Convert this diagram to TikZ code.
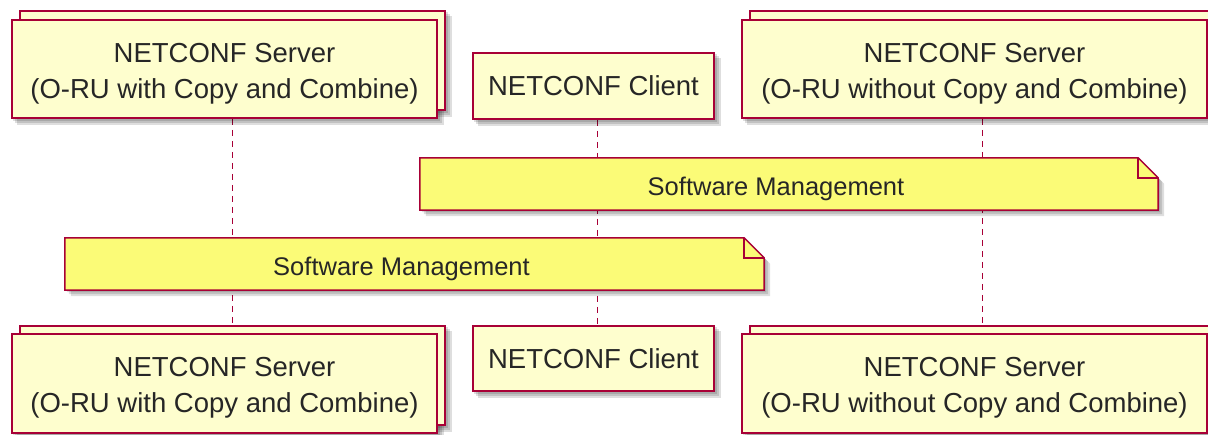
\documentclass[tikz,border=0pt]{standalone}
\usepackage{fontspec}
\setmainfont{Liberation Sans}
\usetikzlibrary{backgrounds}
\definecolor{pborder}{HTML}{A80036}
\definecolor{pfill}{HTML}{FEFECE}
\definecolor{nfill}{HTML}{FBFB77}
\tikzset{
  pbox/.style={draw=pborder, fill=pfill, line width=1.5pt, rectangle, inner sep=0pt,
    align=center, text=black!85, font=\fontsize{27.5}{36}\selectfont},
  backbox/.style={draw=pborder, fill=pfill, line width=1.5pt, rectangle, inner sep=0pt},
  notebox/.style={inner sep=0pt, text=black!85, font=\fontsize{25.5}{30}\selectfont},
  notepaint/.style={draw=pborder, fill=nfill, line width=1.5pt},
  life/.style={draw=pborder, line width=1.3pt, dash pattern=on 6pt off 5pt},
  shad/.style={fill=black, opacity=0.13},
}
\newcommand\lowertop{\rule{0pt}{28pt}}
\newcommand\mkshadow[1]{%
  \fill[shad] ([shift={(2,2)}]#1.north west) rectangle ([shift={(2,2)}]#1.south east);
  \fill[shad] ([shift={(4,4)}]#1.north west) rectangle ([shift={(4,4)}]#1.south east);
  \fill[shad] ([shift={(6,6)}]#1.north west) rectangle ([shift={(6,6)}]#1.south east);}
\newcommand\mknote[1]{%
  \fill[shad] ([shift={(2,2)}]#1.north west) -- ([shift={(-18,2)}]#1.north east) -- ([shift={(2,22)}]#1.north east) -- ([shift={(2,2)}]#1.south east) -- ([shift={(2,2)}]#1.south west) -- cycle;
  \fill[shad] ([shift={(4,4)}]#1.north west) -- ([shift={(-16,4)}]#1.north east) -- ([shift={(4,24)}]#1.north east) -- ([shift={(4,4)}]#1.south east) -- ([shift={(4,4)}]#1.south west) -- cycle;
  \fill[shad] ([shift={(6,6)}]#1.north west) -- ([shift={(-14,6)}]#1.north east) -- ([shift={(6,26)}]#1.north east) -- ([shift={(6,6)}]#1.south east) -- ([shift={(6,6)}]#1.south west) -- cycle;
  \path[notepaint] (#1.north west) -- ([xshift=-20pt]#1.north east) -- ([yshift=-20pt]#1.north east) -- (#1.south east) -- (#1.south west) -- cycle;
  \draw[pborder, line width=1.5pt] ([xshift=-20pt]#1.north east) -- ([xshift=-20pt,yshift=-20pt]#1.north east) -- ([yshift=-20pt]#1.north east);}
\begin{document}
\begin{tikzpicture}[x=1pt, y=-1pt]
  \useasboundingbox (0,0) rectangle (1208,434);
  \clip (0,0) rectangle (1208,434);
  % top participants
  \node[backbox, minimum width=425pt, minimum height=99pt] (s1tb) at (232.5,60.5) {};
  \node[pbox, minimum width=425pt, minimum height=98pt] (s1t) at (224.5,69) {\lowertop NETCONF Server\\(O-RU with Copy and Combine)};
  \node[pbox, minimum width=241pt, minimum height=66pt] (ct) at (593.5,86) {NETCONF Client};
  \node[backbox, minimum width=465pt, minimum height=99pt] (s2tb) at (982.5,60.5) {};
  \node[pbox, minimum width=465pt, minimum height=98pt] (s2t) at (974.5,69) {\lowertop NETCONF Server\\(O-RU without Copy and Combine)};
  % bottom participants
  \node[backbox, minimum width=425pt, minimum height=99pt] (s1bb) at (232.5,375.5) {};
  \node[pbox, minimum width=425pt, minimum height=99pt] (s1b) at (224.5,383.5) {\lowertop NETCONF Server\\(O-RU with Copy and Combine)};
  \node[pbox, minimum width=241pt, minimum height=65pt] (cb) at (593.5,358.5) {NETCONF Client};
  \node[backbox, minimum width=465pt, minimum height=99pt] (s2bb) at (982.5,375.5) {};
  \node[pbox, minimum width=465pt, minimum height=99pt] (s2b) at (974.5,383.5) {\lowertop NETCONF Server\\(O-RU without Copy and Combine)};
  % notes
  \node[notebox, minimum width=738pt, minimum height=52pt] (n1) at (789,184) {\rule{0pt}{28pt}\hspace*{-26pt}Software Management};
  \node[notebox, minimum width=699pt, minimum height=52pt] (n2) at (414.5,264) {\rule{0pt}{28pt}\hspace*{-26pt}Software Management};
  \begin{pgfonlayer}{background}
    \fill[white] (0,0) rectangle (1208,434);
    \draw[life] (s1tb.center |- s1t.south) -- (s1bb.north);
    \draw[life] ([xshift=4pt]ct.south) -- ([xshift=4pt]cb.north);
    \draw[life] (s2tb.center |- s2t.south) -- (s2bb.north);
    \mkshadow{s1tb}\mkshadow{s1t}\mkshadow{ct}\mkshadow{s2tb}\mkshadow{s2t}
    \mkshadow{s1bb}\mkshadow{s1b}\mkshadow{cb}\mkshadow{s2bb}\mkshadow{s2b}
    \mknote{n1}
    \mknote{n2}
  \end{pgfonlayer}
\end{tikzpicture}
\end{document}
